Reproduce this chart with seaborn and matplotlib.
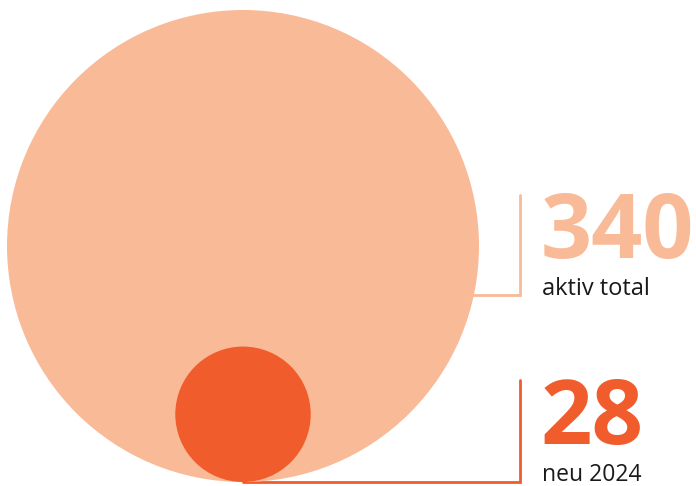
import matplotlib
matplotlib.use("Agg")
import matplotlib.pyplot as plt
import seaborn as sns
import pandas as pd
import numpy as np

labels = ["aktiv total", "neu 2024"]
values = [340, 28]
colors = ["#F9BA98", "#F15C2C"]

sns.set_theme(style="white")
plt.rcParams["font.family"] = ["Open Sans", "DejaVu Sans"]

W, H, DPI = 696, 486, 100
fig = plt.figure(figsize=(W / DPI, H / DPI), dpi=DPI)
ax = fig.add_axes([0, 0, 1, 1])
ax.set_xlim(0, W)
ax.set_ylim(H, 0)
ax.axis("off")

R_MAX = 236.0
cx, base_y = 243.0, 482.0
radii = [R_MAX * np.sqrt(v / max(values)) for v in values]
df = pd.DataFrame({
    "label": labels,
    "value": values,
    "x": [cx] * len(values),
    "y": [base_y - r for r in radii],
})
size_map = {v: (2 * r * 72 / DPI) ** 2 for v, r in zip(values, radii)}

# leader lines (behind circles)
line_x = 520
ax.plot([cx, line_x, line_x], [295, 295, 195], color=colors[0], lw=2, zorder=1,
        solid_joinstyle="miter")
ax.plot([cx, line_x, line_x], [481.5, 481.5, 380], color=colors[1], lw=2, zorder=1,
        solid_joinstyle="miter")

sns.scatterplot(data=df, x="x", y="y", size="value", sizes=size_map,
                hue="label", palette=dict(zip(labels, colors)),
                linewidth=0, legend=False, ax=ax, zorder=2)

tx = 541
ax.text(tx, 258, f"{values[0]}", color=colors[0], fontsize=64.5, fontweight="bold",
        ha="left", va="baseline")
ax.text(tx + 1, 295, labels[0], color="#1a1a1a", fontsize=17, ha="left", va="baseline")
ax.text(tx, 444, f"{values[1]}", color=colors[1], fontsize=65, fontweight="bold",
        ha="left", va="baseline")
ax.text(tx + 1, 481, labels[1], color="#1a1a1a", fontsize=16.5, ha="left", va="baseline")

fig.savefig("out.png", dpi=DPI, facecolor="white")
